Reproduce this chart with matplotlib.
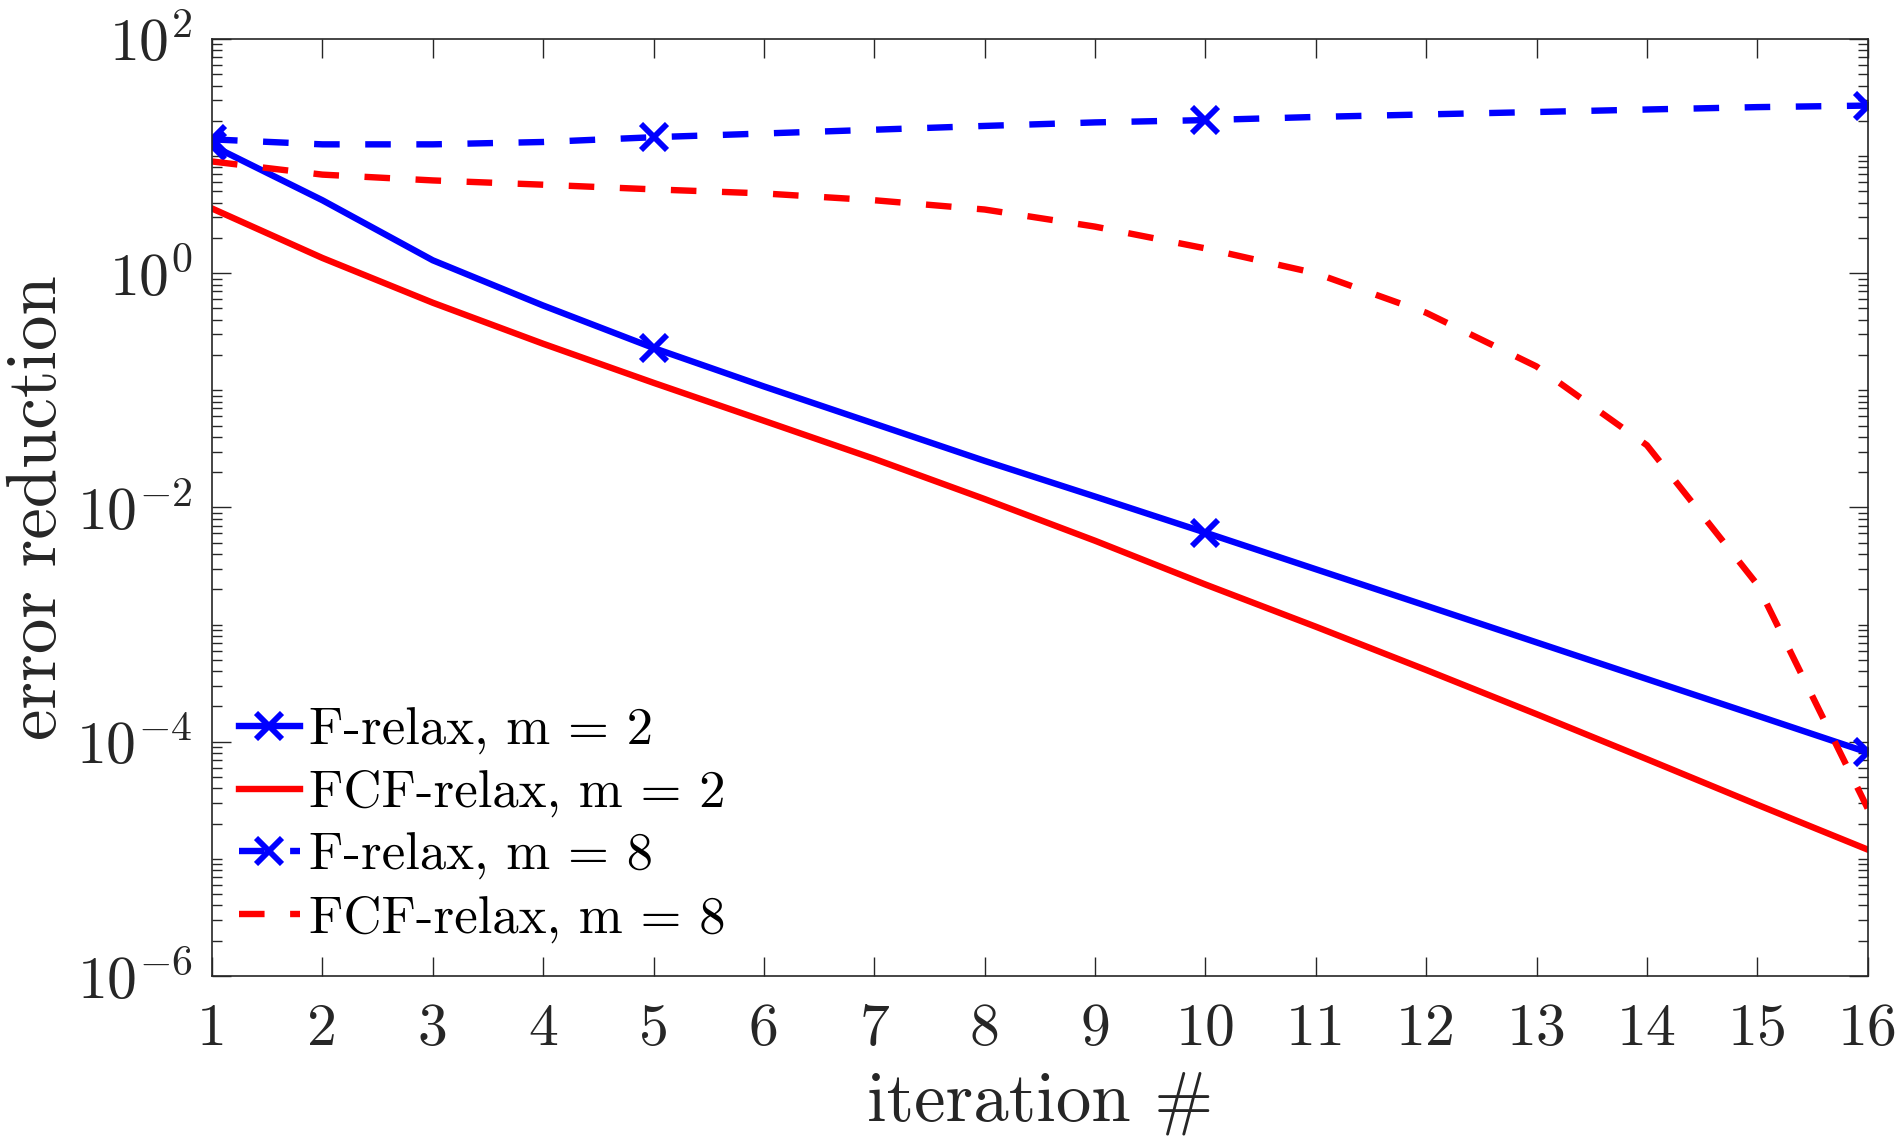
import matplotlib
matplotlib.use('Agg')
import matplotlib.pyplot as plt
from matplotlib.ticker import LogLocator, NullFormatter

plt.rcParams['font.family'] = 'cmr10'
plt.rcParams['mathtext.fontset'] = 'cm'
plt.rcParams['axes.unicode_minus'] = False
plt.rcParams['axes.formatter.use_mathtext'] = True

iters = list(range(1, 17))

# values
f_relax_m2 = [12.3, 4.2, 1.29, 0.53, 0.23, 0.108, 0.052, 0.025, 0.0124, 0.0061,
              0.00297, 0.00145, 0.000705, 0.000343, 0.000167, 8.1e-5]
fcf_relax_m2 = [3.57, 1.35, 0.56, 0.25, 0.116, 0.055, 0.026, 0.0118, 0.0052, 0.0022,
                0.00096, 0.00041, 0.000172, 7.1e-5, 2.9e-5, 1.2e-5]
f_relax_m8 = [13.9, 12.6, 12.6, 13.2, 14.5, 15.6, 16.8, 18.1, 19.4, 20.3,
              21.6, 22.7, 23.8, 25.0, 26.2, 27.0]
fcf_relax_m8 = [9.0, 6.95, 6.2, 5.7, 5.2, 4.8, 4.2, 3.5, 2.5, 1.63,
                1.0, 0.46, 0.16, 0.034, 0.0022, 2.7e-5]

labels = ['F-relax, m = 2', 'FCF-relax, m = 2', 'F-relax, m = 8', 'FCF-relax, m = 8']
marker_idx = [0, 4, 9, 15]

fig = plt.figure(figsize=(18.98, 11.40), dpi=100)
ax = fig.add_axes([0.1117, 0.1439, 0.8723, 0.8219])

lw = 4.6
dash = (0, (4, 4))
ax.plot(iters, f_relax_m2, color='#0000ff', lw=lw, marker='x', ms=19, mew=4.2,
        markevery=marker_idx, label=labels[0])
ax.plot(iters, fcf_relax_m2, color='#ff0000', lw=lw, label=labels[1])
ax.plot(iters, f_relax_m8, color='#0000ff', lw=lw, ls=dash, marker='x', ms=19,
        mew=4.2, markevery=marker_idx, label=labels[2])
ax.plot(iters, fcf_relax_m8, color='#ff0000', lw=lw, ls=dash, label=labels[3])

ax.set_yscale('log')
ax.set_xlim(1, 16)
ax.set_ylim(1e-6, 1e2)
ax.set_xticks(iters)
ax.set_xticklabels([str(i) for i in iters])
ax.set_yticks([1e-6, 1e-4, 1e-2, 1e0, 1e2])
ax.yaxis.set_minor_locator(LogLocator(base=10, subs=[1, 2, 3, 4, 5, 6, 7, 8, 9], numticks=50))
ax.yaxis.set_minor_formatter(NullFormatter())

edge = '#262626'
for s in ax.spines.values():
    s.set_color(edge)
    s.set_linewidth(1.2)
ax.tick_params(which='both', direction='in', top=True, right=True, colors=edge,
               labelsize=43, width=1.0)
ax.tick_params(which='major', length=14)
ax.tick_params(axis='x', which='major', pad=20)
ax.tick_params(axis='y', which='major', pad=14)
ax.tick_params(which='minor', length=7)

ax.set_xlabel('iteration #', fontsize=51, color=edge, labelpad=10)
ax.set_ylabel('error reduction', fontsize=51, color=edge, labelpad=4)

ax.legend(loc='lower left', bbox_to_anchor=(-0.006, -0.004), frameon=False, fontsize=38,
          handlelength=1.15, handletextpad=0.18, labelspacing=0.29, borderaxespad=0.3)

fig.savefig('out.png', dpi=100)
